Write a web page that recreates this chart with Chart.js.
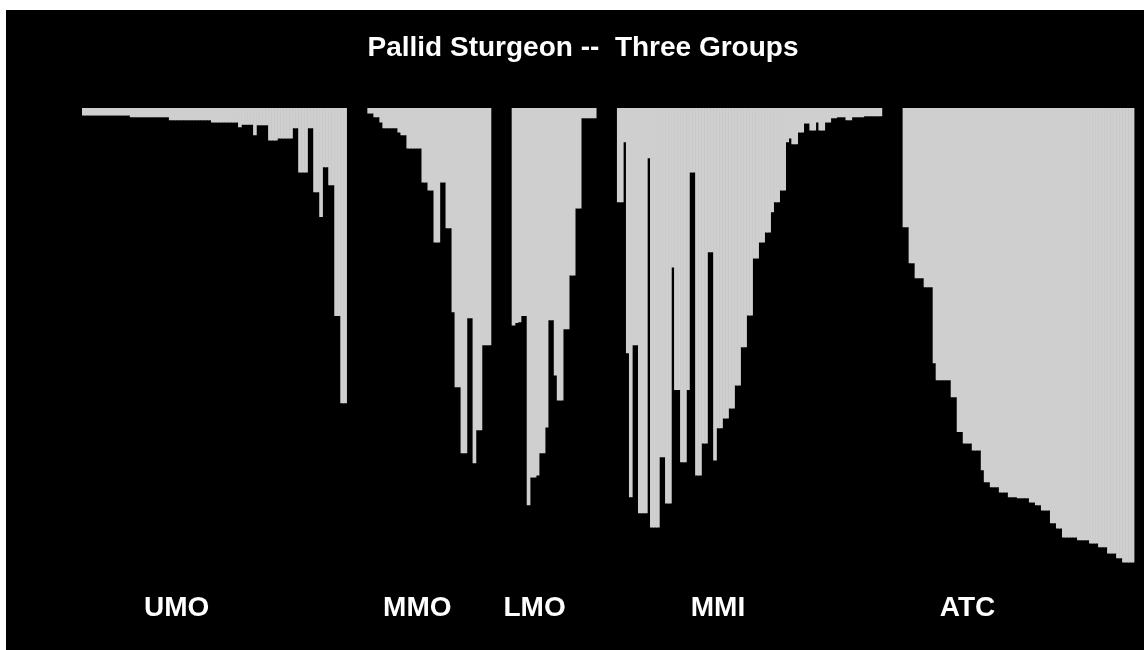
<!DOCTYPE html>
<html>
<head>
<meta charset="utf-8">
<script src="https://cdn.jsdelivr.net/npm/chart.js@4/dist/chart.umd.min.js"></script>
<style>
  html, body { margin: 0; padding: 0; background: #ffffff; }
  #plot { display: block; }
</style>
</head>
<body>
<canvas id="plot" width="1144" height="650"></canvas>
<script>
// group names (shown under each block)
const groupNames = ['UMO', 'MMO', 'LMO', 'MMI', 'ATC'];

// grey share of each individual (0 = top, 1 = bottom)
const umo = [
    0.015, 0.015, 0.015, 0.015, 0.015, 0.015, 0.015, 0.015, 0.015, 0.015, 0.015, 0.015, 0.015, 0.015, 0.015, 0.015,
    0.019, 0.019, 0.019, 0.019, 0.019, 0.019, 0.019, 0.019, 0.019, 0.019, 0.019, 0.019, 0.019,
    0.025, 0.025, 0.025, 0.025, 0.025, 0.025, 0.025, 0.025, 0.025, 0.025, 0.025, 0.025, 0.025, 0.025,
    0.03, 0.03, 0.03, 0.03, 0.03, 0.03, 0.03, 0.03, 0.03,
    0.04, 0.035, 0.035, 0.035, 0.035, 0.057, 0.036, 0.036, 0.036, 0.036,
    0.068, 0.068, 0.068, 0.064, 0.064, 0.064, 0.064, 0.064,
    0.042, 0.042, 0.136, 0.136, 0.136, 0.042, 0.042,
    0.178, 0.178, 0.23, 0.125, 0.125, 0.163, 0.163, 0.44, 0.44, 0.625, 0.625
];
const mmo = [
    0.011, 0.011, 0.019, 0.019, 0.03, 0.042, 0.042, 0.042, 0.042, 0.042,
    0.051, 0.057, 0.057, 0.085, 0.085, 0.085, 0.085, 0.085,
    0.157, 0.157, 0.174, 0.174, 0.284, 0.284, 0.157, 0.157, 0.254, 0.254,
    0.432, 0.591, 0.591, 0.731, 0.731, 0.445, 0.445, 0.752, 0.682, 0.682,
    0.502, 0.502, 0.502
];
const lmo = [
    0.46, 0.455, 0.453, 0.44, 0.44, 0.841, 0.782, 0.782, 0.778, 0.731, 0.731, 0.676,
    0.449, 0.449, 0.566, 0.619, 0.619, 0.468, 0.468, 0.354, 0.354, 0.212, 0.212,
    0.021, 0.021, 0.021, 0.021, 0.021
];
const mmi = [
    0.199, 0.199, 0.072, 0.519, 0.824, 0.502, 0.502, 0.858, 0.858, 0.858, 0.106,
    0.888, 0.888, 0.888, 0.739, 0.739, 0.837, 0.837, 0.337, 0.597, 0.597, 0.75, 0.75,
    0.597, 0.136, 0.136, 0.778, 0.778, 0.71, 0.71, 0.305, 0.305, 0.746,
    0.678, 0.678, 0.657, 0.657, 0.636, 0.636, 0.587, 0.587, 0.506, 0.506,
    0.439, 0.439, 0.318, 0.318, 0.284, 0.284, 0.263, 0.263, 0.22, 0.199, 0.199,
    0.174, 0.174, 0.072, 0.064, 0.076, 0.076, 0.051, 0.051, 0.032, 0.032,
    0.047, 0.047, 0.03, 0.047, 0.047, 0.03, 0.03, 0.021, 0.021,
    0.019, 0.019, 0.019, 0.025, 0.025, 0.019, 0.019, 0.019, 0.019,
    0.017, 0.017, 0.017, 0.017, 0.017, 0.017
];
const atc = [
    0.252, 0.252, 0.328, 0.328, 0.36, 0.36, 0.36, 0.379, 0.379, 0.379, 0.54,
    0.576, 0.576, 0.576, 0.576, 0.576, 0.612, 0.612, 0.686, 0.686,
    0.71, 0.71, 0.71, 0.725, 0.725, 0.725, 0.767, 0.792, 0.792,
    0.803, 0.803, 0.803, 0.814, 0.814, 0.814, 0.824, 0.824, 0.824,
    0.826, 0.826, 0.826, 0.826, 0.835, 0.835, 0.841, 0.841, 0.852, 0.852, 0.852,
    0.879, 0.879, 0.89, 0.89, 0.909, 0.909, 0.909, 0.909, 0.909,
    0.915, 0.915, 0.915, 0.915, 0.922, 0.922, 0.922, 0.93, 0.93, 0.93,
    0.943, 0.943, 0.943, 0.953, 0.953, 0.962, 0.962, 0.962, 0.962
];

const groups = [umo, mmo, lmo, mmi, atc];
const GAP = 7;                          // empty slots between blocks
const labelOffset = [31, 16, 7, 33, 21]; // where the name sits inside each block

// build one long row of individuals with empty slots between the groups
let labels = [];
let values = [];
groups.forEach(function(g, gi) {
    if (gi > 0) {
        for (let k = 0; k < GAP; k++) { labels.push(''); values.push(null); }
    }
    g.forEach(function(v, i) {
        labels.push(i == labelOffset[gi] ? groupNames[gi] : '');
        values.push(v);
    });
});

const blackBox = {
    id: 'blackBox',
    beforeDraw(chart) {
        const c = chart.ctx;
        c.save();
        c.fillStyle = '#000000';
        c.fillRect(6, 10, chart.width - 6, chart.height - 10);
        c.restore();
    }
};

let ctx = document.getElementById('plot').getContext('2d');

new Chart(ctx, {
    type: 'bar',
    data: {
        labels: labels,
        datasets: [{
            label: 'Pallid Sturgeon',
            data: values,
            backgroundColor: '#cfcfcf',
            borderWidth: 0,
            barPercentage: 1.0,
            categoryPercentage: 1.0
        }]
    },
    options: {
        responsive: false,
        animation: false,
        devicePixelRatio: 1,
        layout: { padding: { left: 30.6, right: 8.6, top: 0, bottom: 0 } },
        plugins: {
            legend: { display: false },
            tooltip: { enabled: false },
            title: {
                display: true,
                text: 'Pallid Sturgeon --  Three Groups',
                color: '#ffffff',
                font: { family: "'Liberation Sans', Arial, sans-serif", size: 28, weight: 'bold' },
                padding: { top: 31, bottom: 43.4 }
            }
        },
        scales: {
            x: {
                grid: { display: false, drawTicks: false },
                border: { display: false },
                ticks: {
                    autoSkip: false,
                    maxRotation: 0,
                    padding: 11,
                    color: '#ffffff',
                    font: { family: "'Liberation Sans', Arial, sans-serif", size: 28, weight: 'bold' }
                },
                afterFit: function(s) { s.height = 70; }
            },
            y: {
                min: 0,
                max: 1,
                reverse: true,
                grid: { display: false, drawTicks: false },
                border: { display: false },
                ticks: { display: false },
                afterFit: function(s) { s.width = 51.4; }
            }
        }
    },
    plugins: [blackBox]
});
</script>
</body>
</html>
